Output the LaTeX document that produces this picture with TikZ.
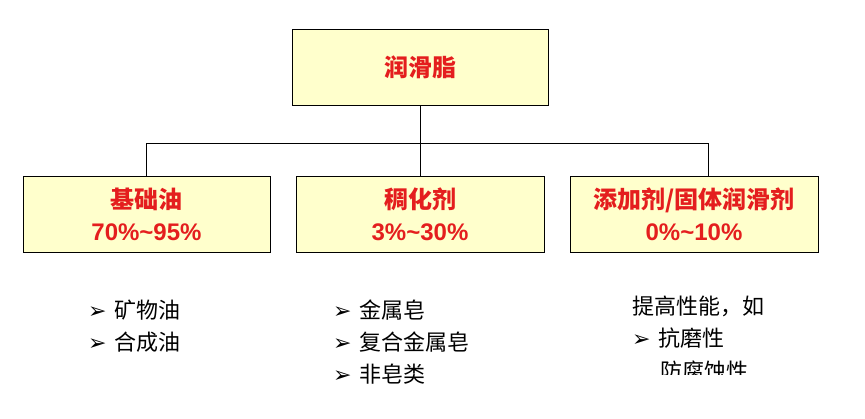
\documentclass[tikz,border=0pt]{standalone}
\usepackage{fontspec}
\setmainfont{Noto Sans CJK SC}
\newfontfamily\dv{DejaVu Sans}
\newfontfamily\las{Liberation Sans}
\definecolor{boxfill}{HTML}{FFFFCC}
\definecolor{txtred}{HTML}{E41E1E}
\newcommand{\arr}{{\dv\fontsize{22}{32}\selectfont ➢}\hspace{8pt}}
\begin{document}
\begin{tikzpicture}[x=1pt,y=-1pt,
  box/.style={draw=black,line width=0.9pt,fill=boxfill,minimum height=76pt,align=center,font=\fontsize{24}{32}\selectfont\bfseries,text=txtred,inner sep=0pt},
  lst/.style={anchor=north west,align=left,font=\fontsize{22}{32}\selectfont,inner sep=0pt},
  conn/.style={line width=0.9pt}]
\useasboundingbox (0,0) rectangle (865,418);
\node[box,minimum width=256pt] (top) at (420,67.5) {润滑脂};
\node[box,minimum width=247pt] (a) at (146.5,214) {基础油\\{\las\bfseries 70\%\textasciitilde95\%}};
\node[box,minimum width=248pt] (b) at (420,214) {稠化剂\\{\las\bfseries 3\%\textasciitilde30\%}};
\node[box,minimum width=248pt] (c) at (694,214) {添加剂/固体润滑剂\\{\las\bfseries 0\%\textasciitilde10\%}};
\coordinate (j) at (420,143);
\draw[conn] (top.south) -- (j);
\draw[conn] (a.north) -- (146.5,143) -- (708,143) -- (708,176);
\draw[conn] (j) -- (b.north);
\node[lst] (la) at (88,300) {\arr 矿物油\\\arr 合成油};
\node[lst] (lb) at (333,300) {\arr 金属皂\\\arr 复合金属皂\\\arr 非皂类};
\node[lst] (lc) at (632,296) {提高性能，如\\\arr 抗磨性};
\begin{scope}
\clip (600,360) rectangle (865,374);
\node[lst] (ld) at (660,361) {防腐蚀性};
\end{scope}
\end{tikzpicture}
\end{document}
